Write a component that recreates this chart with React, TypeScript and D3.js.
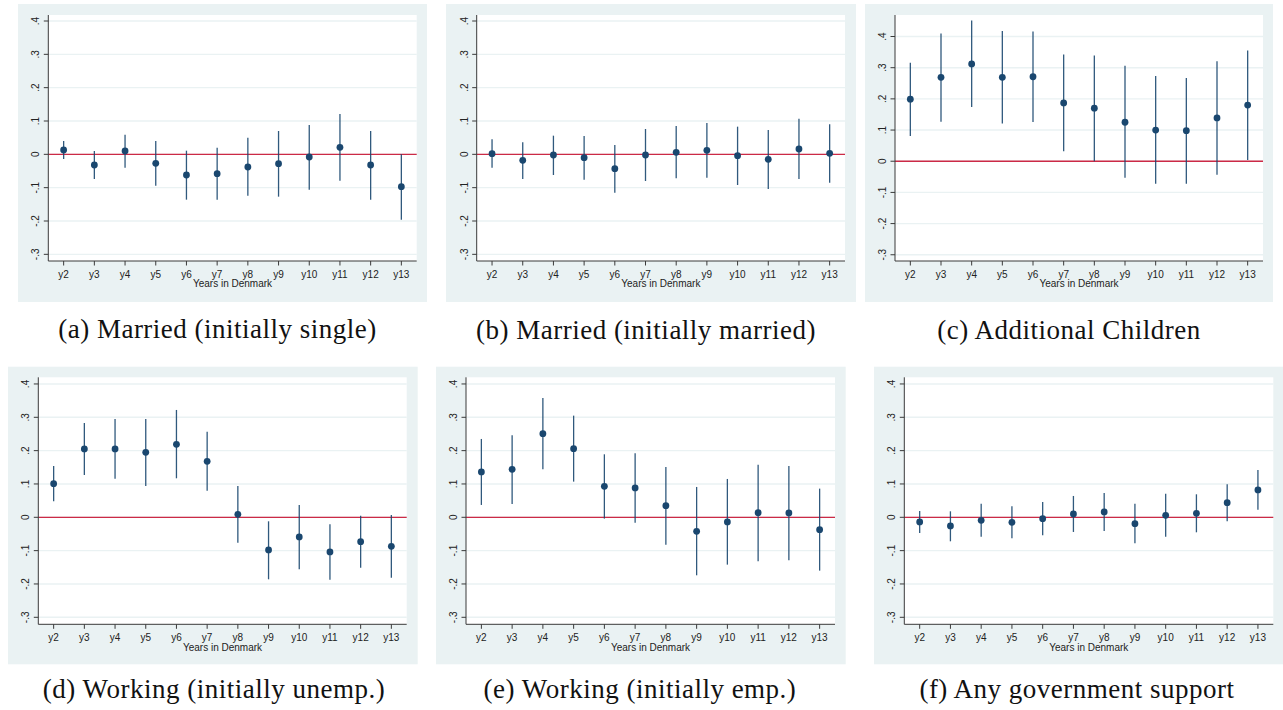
import React from "react";
import * as d3 from "d3";

// Event-study coefficients by years since arrival, with 95% confidence bounds.
const years = ["y2", "y3", "y4", "y5", "y6", "y7", "y8", "y9", "y10", "y11", "y12", "y13"];
const yearNumbers = [2, 3, 4, 5, 6, 7, 8, 9, 10, 11, 12, 13];

const yTickValues = [-0.3, -0.2, -0.1, 0, 0.1, 0.2, 0.3, 0.4];
const yTickLabels = ["-.3", "-.2", "-.1", "0", ".1", ".2", ".3", ".4"];
const xAxisTitle = "Years in Denmark";

// (a) Married, initially single
const marriedSingleEst = [0.013, -0.032, 0.01, -0.027, -0.062, -0.058, -0.038, -0.028, -0.008, 0.021, -0.032, -0.097];
const marriedSingleHi = [0.04, 0.01, 0.059, 0.04, 0.011, 0.02, 0.05, 0.07, 0.088, 0.121, 0.07, 0.0];
const marriedSingleLo = [-0.014, -0.074, -0.04, -0.094, -0.136, -0.136, -0.124, -0.127, -0.106, -0.079, -0.136, -0.196];

// (b) Married, initially married
const marriedMarriedEst = [0.002, -0.018, -0.002, -0.01, -0.043, -0.002, 0.006, 0.012, -0.004, -0.015, 0.016, 0.003];
const marriedMarriedHi = [0.045, 0.036, 0.056, 0.055, 0.028, 0.076, 0.085, 0.094, 0.083, 0.073, 0.107, 0.09];
const marriedMarriedLo = [-0.04, -0.074, -0.062, -0.076, -0.115, -0.08, -0.072, -0.07, -0.092, -0.104, -0.074, -0.085];

// (c) Additional children
const childrenEst = [0.199, 0.269, 0.312, 0.269, 0.271, 0.187, 0.17, 0.125, 0.1, 0.098, 0.139, 0.18];
const childrenHi = [0.316, 0.41, 0.451, 0.418, 0.416, 0.342, 0.339, 0.306, 0.273, 0.267, 0.321, 0.355];
const childrenLo = [0.081, 0.127, 0.174, 0.121, 0.126, 0.032, 0.0, -0.053, -0.072, -0.072, -0.043, 0.004];

// (d) Working, initially unemployed
const workUnempEst = [0.101, 0.205, 0.205, 0.195, 0.219, 0.168, 0.009, -0.098, -0.059, -0.104, -0.073, -0.087];
const workUnempHi = [0.154, 0.283, 0.295, 0.295, 0.322, 0.257, 0.094, -0.012, 0.037, -0.021, 0.005, 0.007];
const workUnempLo = [0.048, 0.127, 0.116, 0.094, 0.117, 0.08, -0.076, -0.186, -0.156, -0.187, -0.151, -0.181];

// (e) Working, initially employed
const workEmpEst = [0.136, 0.144, 0.251, 0.206, 0.093, 0.088, 0.035, -0.042, -0.014, 0.014, 0.013, -0.037];
const workEmpHi = [0.235, 0.246, 0.358, 0.305, 0.189, 0.192, 0.151, 0.091, 0.115, 0.158, 0.154, 0.086];
const workEmpLo = [0.037, 0.04, 0.144, 0.107, -0.004, -0.016, -0.082, -0.174, -0.142, -0.132, -0.129, -0.16];

// (f) Any government support
const supportEst = [-0.014, -0.026, -0.009, -0.015, -0.004, 0.01, 0.016, -0.019, 0.006, 0.012, 0.044, 0.082];
const supportHi = [0.019, 0.018, 0.041, 0.033, 0.046, 0.064, 0.073, 0.041, 0.071, 0.069, 0.099, 0.142];
const supportLo = [-0.047, -0.072, -0.058, -0.063, -0.054, -0.044, -0.041, -0.078, -0.058, -0.045, -0.012, 0.023];

const captions = [
  "(a) Married (initially single)",
  "(b) Married (initially married)",
  "(c) Additional Children",
  "(d) Working (initially unemp.)",
  "(e) Working (initially emp.)",
  "(f) Any government support",
];

const seriesList = [
  { est: marriedSingleEst, lo: marriedSingleLo, hi: marriedSingleHi, yMin: -0.32, yMax: 0.418 },
  { est: marriedMarriedEst, lo: marriedMarriedLo, hi: marriedMarriedHi, yMin: -0.32, yMax: 0.418 },
  { est: childrenEst, lo: childrenLo, hi: childrenHi, yMin: -0.32, yMax: 0.469 },
  { est: workUnempEst, lo: workUnempLo, hi: workUnempHi, yMin: -0.321, yMax: 0.42 },
  { est: workEmpEst, lo: workEmpLo, hi: workEmpHi, yMin: -0.321, yMax: 0.42 },
  { est: supportEst, lo: supportLo, hi: supportHi, yMin: -0.321, yMax: 0.42 },
];

// Panel geometry: outer graph region, plot region, caption anchor.
const frames = [
  { bx0: 18, by0: 4, bx1: 427, by1: 302, L: 48.3, R: 416.7, T: 15, B: 261, cx: 217.5, cy: 338 },
  { bx0: 446, by0: 4, bx1: 856, by1: 302, L: 476.7, R: 845, T: 15, B: 261, cx: 646, cy: 338.5 },
  { bx0: 865, by0: 4, bx1: 1273, by1: 302, L: 895, R: 1263, T: 15, B: 261, cx: 1069, cy: 338.5 },
  { bx0: 8, by0: 366.7, bx1: 417.7, by1: 664.3, L: 38.3, R: 406.7, T: 377.3, B: 624.3, cx: 214, cy: 697.5 },
  { bx0: 436, by0: 366.7, bx1: 845.7, by1: 664.3, L: 466, R: 835, T: 377.3, B: 624.3, cx: 640, cy: 698 },
  { bx0: 874, by0: 366.7, bx1: 1283, by1: 664.3, L: 904.3, R: 1273.3, T: 377.3, B: 624.3, cx: 1077, cy: 698 },
];

const REGION_BG = "#eaf2f3";
const GRID = "#eaf2f3";
const NAVY = "#1a476f";
const ZERO = "#cc2a46";
const AXIS = "#3a3a3a";
const SANS = "'Liberation Sans', Arial, sans-serif";
const SERIF = "'Liberation Serif', 'Times New Roman', serif";

function Panel({ frame, series, caption }: any) {
  const { bx0, by0, bx1, by1, L, R, T, B, cx, cy } = frame;
  const x = d3.scaleLinear().domain([1.5, 13.5]).range([L, R]);
  const y = d3.scaleLinear().domain([series.yMin, series.yMax]).range([B, T]);
  const midX = (L + R) / 2;

  return (
    <g>
      <rect x={bx0} y={by0} width={bx1 - bx0} height={by1 - by0} fill={REGION_BG} />
      <rect x={L} y={T} width={R - L} height={B - T} fill="#ffffff" />

      {/* horizontal grid */}
      {yTickValues.map((v) => (
        <line key={`g${v}`} x1={L} x2={R} y1={y(v)} y2={y(v)} stroke={GRID} strokeWidth={1.4} />
      ))}

      {/* reference line at zero */}
      <line x1={L} x2={R} y1={y(0)} y2={y(0)} stroke={ZERO} strokeWidth={1.3} />

      {/* confidence intervals */}
      {yearNumbers.map((yr, i) => (
        <line
          key={`ci${yr}`}
          x1={x(yr)}
          x2={x(yr)}
          y1={y(series.lo[i])}
          y2={y(series.hi[i])}
          stroke={NAVY}
          strokeWidth={1.3}
          strokeOpacity={0.9}
        />
      ))}

      {/* point estimates */}
      {yearNumbers.map((yr, i) => (
        <circle key={`pt${yr}`} cx={x(yr)} cy={y(series.est[i])} r={3.4} fill={NAVY} />
      ))}

      {/* axes */}
      <line x1={L} x2={L} y1={T} y2={B} stroke={AXIS} strokeWidth={1} />
      <line x1={L} x2={R} y1={B} y2={B} stroke={AXIS} strokeWidth={1} />

      {yTickValues.map((v, i) => (
        <g key={`yt${v}`}>
          <line x1={L - 4.5} x2={L} y1={y(v)} y2={y(v)} stroke={AXIS} strokeWidth={1} />
          <text
            transform={`translate(${L - 9},${y(v)}) rotate(-90)`}
            textAnchor="middle"
            fontFamily={SANS}
            fontSize={10}
            fill="#222"
          >
            {yTickLabels[i]}
          </text>
        </g>
      ))}

      {yearNumbers.map((yr, i) => (
        <g key={`xt${yr}`}>
          <line x1={x(yr)} x2={x(yr)} y1={B} y2={B + 4.5} stroke={AXIS} strokeWidth={1} />
          <text x={x(yr)} y={B + 16.7} textAnchor="middle" fontFamily={SANS} fontSize={10} fill="#222">
            {years[i]}
          </text>
        </g>
      ))}

      <text x={midX} y={B + 26.3} textAnchor="middle" fontFamily={SANS} fontSize={10} fill="#222">
        {xAxisTitle}
      </text>

      <text
        x={cx}
        y={cy}
        textAnchor="middle"
        fontFamily={SERIF}
        fontSize={27}
        letterSpacing={0.5}
        fill="#111"
      >
        {caption}
      </text>
    </g>
  );
}

export default function App() {
  return (
    <svg
      width={1283}
      height={710}
      viewBox="0 0 1283 710"
      style={{ position: "absolute", left: 0, top: 0, background: "#ffffff" }}
    >
      {frames.map((f, i) => (
        <Panel key={i} frame={f} series={seriesList[i]} caption={captions[i]} />
      ))}
    </svg>
  );
}
